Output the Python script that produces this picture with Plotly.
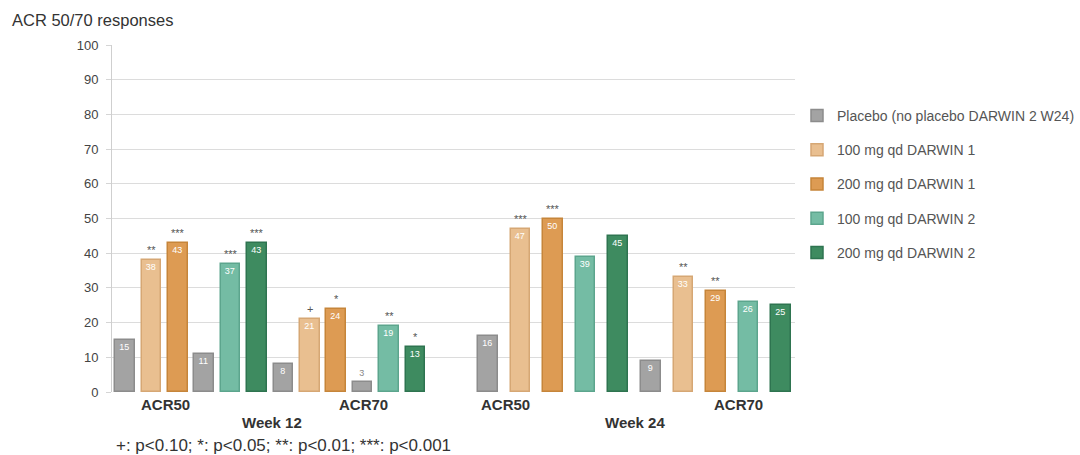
import plotly.graph_objects as go

# Treatment arms (legend order)
series_names = [
    "Placebo (no placebo DARWIN 2 W24)",
    "100 mg qd DARWIN 1",
    "200 mg qd DARWIN 1",
    "100 mg qd DARWIN 2",
    "200 mg qd DARWIN 2",
]
fill_colors = ["#a3a3a3", "#e9bf90", "#dd9b53", "#74bca4", "#3e8b60"]
edge_colors = ["#8c8c8c", "#d6a774", "#c6853a", "#5ca58d", "#2e7450"]

# Week 12: placebo / 100 / 200 for DARWIN 1, then placebo / 100 / 200 for DARWIN 2
w12_arm = [0, 1, 2, 0, 3, 4]
w12_acr50 = [15, 38, 43, 11, 37, 43]
w12_acr70 = [8, 21, 24, 3, 19, 13]
w12_sig50 = ["", "**", "***", "", "***", "***"]
w12_sig70 = ["", "+", "*", "", "**", "*"]

# Week 24: no placebo arm in DARWIN 2
w24_arm = [0, 1, 2, 3, 4]
w24_acr50 = [16, 47, 50, 39, 45]
w24_acr70 = [9, 33, 29, 26, 25]
w24_sig50 = ["", "***", "***", "", ""]
w24_sig70 = ["", "**", "**", "", ""]

footnote = "+: p<0.10; *: p<0.05; **: p<0.01; ***: p<0.001"

# horizontal layout of the bar slots (x axis units = pixels of plot area)
W12_START, W12_STEP = 13.0, 26.4
W24_START, W24_STEP = 376.0, 32.55
BAR_W = 19.5

blocks = [
    (W12_START, W12_STEP, w12_arm, w12_acr50 + w12_acr70, w12_sig50 + w12_sig70),
    (W24_START, W24_STEP, w24_arm, w24_acr50 + w24_acr70, w24_sig50 + w24_sig70),
]

xs = {i: [] for i in range(len(series_names))}
ys = {i: [] for i in range(len(series_names))}
sig_marks = []
for start, step, arms, vals, sigs in blocks:
    arm_seq = arms * 2
    for k, (arm, v, s) in enumerate(zip(arm_seq, vals, sigs)):
        x = start + k * step
        xs[arm].append(x)
        ys[arm].append(v)
        if s:
            sig_marks.append((x, v, s))

FONT = "Liberation Sans, Arial, Helvetica, sans-serif"
fig = go.Figure()
for i, name in enumerate(series_names):
    small = [v < 5 for v in ys[i]]
    fig.add_trace(go.Bar(
        x=xs[i], y=ys[i], name=name, width=BAR_W,
        marker=dict(color=fill_colors[i], line=dict(color=edge_colors[i], width=1.5)),
        text=[str(v) for v in ys[i]],
        textposition=["outside" if s else "inside" for s in small],
        insidetextanchor="end",
        textfont=dict(size=9, family=FONT,
                      color=["#888888" if s else "white" for s in small]),
        cliponaxis=False,
        legendgroup=f"g{i}",
        hoverinfo="skip",
    ))

annotations = []
for x, v, s in sig_marks:
    annotations.append(dict(
        x=x, y=v, xref="x", yref="y", text=s, showarrow=False,
        yanchor="bottom", yshift=2, font=dict(size=11, color="#555555", family=FONT),
    ))

# endpoint and week labels below the axis
for txt, x, y in [
    ("ACR50", 53, -0.037), ("ACR70", 251, -0.037), ("Week 12", 160, -0.087),
    ("ACR50", 393, -0.037), ("ACR70", 626, -0.037), ("Week 24", 523, -0.087),
]:
    annotations.append(dict(
        x=x, y=y, xref="x", yref="paper", text=f"<b>{txt}</b>", showarrow=False,
        xanchor="center", yanchor="middle", font=dict(size=15, color="#333333", family=FONT),
    ))

annotations.append(dict(
    x=114, y=445, xref="paper", yref="paper", text=footnote, showarrow=False,
    xanchor="left", yanchor="middle", font=dict(size=17, color="#333333", family=FONT),
))
annotations.append(dict(
    x=10, y=20, xref="paper", yref="paper", text="ACR 50/70 responses", showarrow=False,
    xanchor="left", yanchor="middle", font=dict(size=16.5, color="#333333", family=FONT),
))

# convert pixel positions of the two free-standing texts to paper coords
L, R, T, B = 112, 285, 45, 63
PW, PH = 1080 - L - R, 455 - T - B
for a in annotations[-2:]:
    a["x"] = (a["x"] - L) / PW
    a["y"] = 1 - (a["y"] - T) / PH

fig.update_layout(
    width=1080, height=455,
    margin=dict(l=L, r=R, t=T, b=B, autoexpand=False),
    paper_bgcolor="white", plot_bgcolor="white",
    barmode="overlay", bargap=0,
    font=dict(family=FONT, color="#444444"),
    showlegend=True,
    legend=dict(
        x=(797 - L) / PW, y=1 - (100 - T) / PH, xanchor="left", yanchor="top",
        traceorder="grouped", tracegroupgap=13,
        font=dict(size=14, color="#555555", family=FONT),
        bgcolor="rgba(0,0,0,0)",
    ),
    xaxis=dict(range=[0, PW], showgrid=False, showticklabels=False, zeroline=False,
               showline=False, fixedrange=True),
    yaxis=dict(range=[0, 100], dtick=10, showgrid=True, gridcolor="#dcdcdc", gridwidth=1,
               zeroline=False, showline=True, linecolor="#cfcfcf", linewidth=1,
               ticks="outside", ticklen=5, tickcolor="#d5d5d5", ticklabelstandoff=5,
               tickfont=dict(size=13, color="#444444", family=FONT)),
    annotations=annotations,
)

fig.write_html("out.html")
